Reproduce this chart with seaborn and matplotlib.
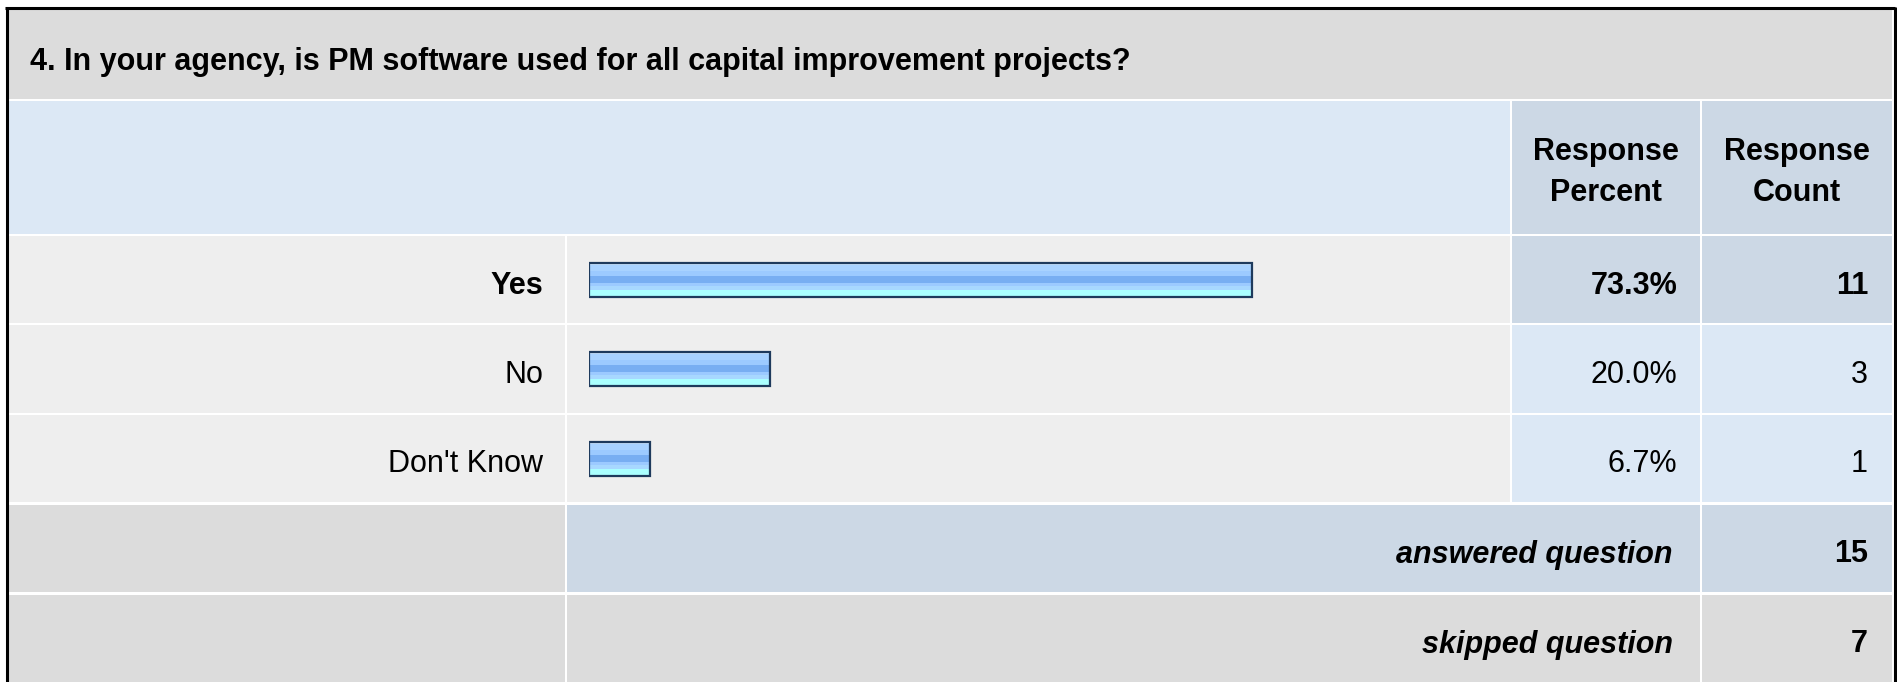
import numpy as np
import matplotlib
matplotlib.use("Agg")
import matplotlib.pyplot as plt
from matplotlib.patches import Rectangle
from matplotlib.colors import to_rgb
import seaborn as sns

# ---- data ----
title = "4. In your agency, is PM software used for all capital improvement projects?"
categories = ["Yes", "No", "Don't Know"]
percents = [73.3, 20.0, 6.7]
counts = [11, 3, 1]
pct_labels = ["73.3%", "20.0%", "6.7%"]
answered = 15
skipped = 7

sns.set_theme(style="white")
plt.rcParams['font.family'] = ['Liberation Sans', 'DejaVu Sans']
plt.rcParams['text.color'] = 'black'

W, H = 1897, 682
fig = plt.figure(figsize=(W / 100, H / 100), dpi=100)
fig.patch.set_facecolor("white")

bg = fig.add_axes([0, 0, 1, 1])
bg.set_xlim(0, W)
bg.set_ylim(H, 0)
bg.axis("off")

GRAY = "#DCDCDC"
LIGHT = "#DCE8F5"
DARK = "#CCD8E5"
ROW = "#EEEEEE"

def cell(x0, x1, y0, y1, color):
    bg.add_patch(Rectangle((x0, y0), x1 - x0, y1 - y0, facecolor=color,
                           edgecolor="none", zorder=1))

# column edges
L0, L1 = 9, 565
B0, B1 = 567, 1510
P0, P1 = 1512, 1700
C0, C1 = 1702, 1892

cell(L0, C1, 10, 99, GRAY)
cell(L0, B1, 101, 234, LIGHT)
cell(P0, P1, 101, 234, DARK)
cell(C0, C1, 101, 234, DARK)
rows = [(236, 323), (325, 413), (415, 502)]
for i, (y0, y1) in enumerate(rows):
    cell(L0, L1, y0, y1, ROW)
    cell(B0, B1, y0, y1, ROW)
    c = DARK if i == 0 else LIGHT
    cell(P0, P1, y0, y1, c)
    cell(C0, C1, y0, y1, c)
cell(L0, L1, 505, 592, GRAY)
cell(B0, P1, 505, 592, DARK)
cell(C0, C1, 505, 592, DARK)
cell(L0, L1, 595, 682, GRAY)
cell(B0, P1, 595, 682, GRAY)
cell(C0, C1, 595, 682, GRAY)

# outer border
bg.plot([6.5, 6.5], [7, H], color="black", lw=2.2, zorder=5, solid_capstyle="butt")
bg.plot([5, 1895], [8, 8], color="black", lw=2.2, zorder=5, solid_capstyle="butt")
bg.plot([1894.5, 1894.5], [7, H], color="black", lw=2.2, zorder=5, solid_capstyle="butt")

FS = 22
TC = "black"
bg.text(30, 70, title, fontsize=FS, fontweight="bold", ha="left", va="baseline", color=TC, zorder=6)
for cx in [(P0 + P1) / 2, (C0 + C1) / 2]:
    pass
bg.text((P0 + P1) / 2, 160, "Response", fontsize=FS, fontweight="bold", ha="center", va="baseline", color=TC, zorder=6)
bg.text((P0 + P1) / 2, 201, "Percent", fontsize=FS, fontweight="bold", ha="center", va="baseline", color=TC, zorder=6)
bg.text((C0 + C1) / 2, 160, "Response", fontsize=FS, fontweight="bold", ha="center", va="baseline", color=TC, zorder=6)
bg.text((C0 + C1) / 2, 201, "Count", fontsize=FS, fontweight="bold", ha="center", va="baseline", color=TC, zorder=6)

for i, (y0, y1) in enumerate(rows):
    yb = (y0 + y1) / 2 + 14
    w = "bold" if i == 0 else "normal"
    bg.text(543, yb, categories[i], fontsize=FS, fontweight=w, ha="right", va="baseline", color=TC, zorder=6)
    bg.text(1677, yb, pct_labels[i], fontsize=FS, fontweight=w, ha="right", va="baseline", color=TC, zorder=6)
    bg.text(1868, yb, str(counts[i]), fontsize=FS, fontweight=w, ha="right", va="baseline", color=TC, zorder=6)

for (y0, y1), lab, val in [((505, 592), "answered question", answered),
                           ((595, 682), "skipped question", skipped)]:
    yb = (y0 + y1) / 2 + 14
    bg.text(1673, yb, lab, fontsize=FS, fontweight="bold", fontstyle="italic",
            ha="right", va="baseline", color=TC, zorder=6)
    bg.text(1868, yb, str(val), fontsize=FS, fontweight="bold", ha="right", va="baseline", color=TC, zorder=6)

# ---- bar axes ----
bx0, bx1 = 589, 1494
by0, by1 = 235, 503.5
bax = fig.add_axes([bx0 / W, 1 - by1 / H, (bx1 - bx0) / W, (by1 - by0) / H])
bax.patch.set_alpha(0)
sns.barplot(x=percents, y=categories, orient="h", ax=bax, width=0.38,
            color="#9CCAFF", saturation=1)

stripes = ["#C8E4FF", "#C8E4FF", "#A8D2FF", "#A8D2FF", "#A8D2FF", "#9CCAFF", "#9CCAFF",
           "#9CCAFF", "#78AEF2", "#78AEF2", "#78AEF2", "#78AEF2", "#9CCAFF", "#9CCAFF",
           "#A8D8FF", "#A8D8FF", "#AAFFFF", "#AAFFFF", "#AAFFFF", "#AAFFFF"]
grad = np.array([to_rgb(c) for c in stripes]).reshape(-1, 1, 3)

for p in bax.patches:
    x0, y0 = p.get_x(), p.get_y()
    w, h = p.get_width(), p.get_height()
    bax.imshow(grad, extent=(x0, x0 + w, y0 + h, y0), aspect="auto",
               origin="upper", interpolation="nearest", zorder=2)
    p.set_facecolor("none")
    p.set_edgecolor("#1E3A5C")
    p.set_linewidth(1.6)
    p.set_zorder(3)

bax.set_xlim(0, 100)
bax.set_ylim(2.5, -0.5)
bax.axis("off")

fig.savefig("out.png", dpi=100)
